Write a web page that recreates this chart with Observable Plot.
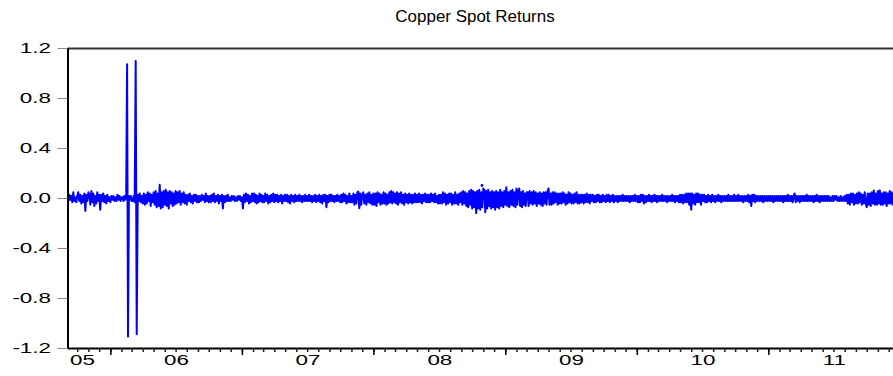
<!DOCTYPE html>
<html><head><meta charset="utf-8">
<script src="https://cdn.jsdelivr.net/npm/d3@7"></script>
<script src="https://cdn.jsdelivr.net/npm/@observablehq/plot@0.6"></script>
<style>
body{margin:0;background:#fff;font-family:"Liberation Sans",Arial,sans-serif;}
#wrap{position:relative;width:893px;height:376px;overflow:hidden;background:#fff;}
#title{position:absolute;top:8px;left:0;width:950px;text-align:center;font-size:16px;color:#000;transform:scaleX(1.06);transform-origin:475px 0;}
#chart{position:absolute;left:0;top:0;}
</style></head><body>
<div id="wrap"><div id="chart"></div><div id="title">Copper Spot Returns</div></div>
<script>
// Daily copper spot returns (first month: Sep 2005)
const firstMonth = "2005-09";
const returns2005 = [
  [0.01,-0.02,0.03,-0.01,0.02,-0.03,0.05,-0.02,0.01,-0.03,0.02],
  [0.05,-0.02,0.03,-0.04,0.02,-0.03,0.04,-0.10,0.03,-0.02,0.05],
  [0.03,-0.05,0.06,-0.03,0.04,-0.06,0.02,-0.04,0.05,-0.02,0.03],
  [-0.09,0.03,-0.02,0.04,-0.03,0.02,-0.04,0.03,-0.02,0.01,-0.03]
];
const returns2006 = [
  [0.02,-0.01,0.02,-0.02,0.01,-0.02,0.03,-0.01,0.02,-0.02,0.01],
  [0.01,-0.02,0.02,-0.01,0.02,1.074,-1.104,0.02,-0.01,0.02,-0.02],
  [-0.02,0.02,-0.03,1.10,-1.085,0.03,-0.02,0.04,-0.03,0.02,-0.04],
  [0.04,-0.05,0.03,-0.04,0.05,-0.02,0.04,-0.06,0.03,-0.03,0.05],
  [-0.05,0.06,-0.07,0.04,-0.06,0.11,-0.08,0.05,-0.07,0.06,-0.05],
  [0.07,-0.06,0.05,-0.08,0.06,-0.04,0.05,-0.06,0.04,-0.05,0.06],
  [-0.04,0.05,-0.03,0.06,-0.05,0.04,-0.03,0.05,-0.04,0.03,-0.05],
  [0.03,-0.02,0.04,-0.03,0.02,-0.04,0.03,-0.02,0.03,-0.03,0.02],
  [-0.03,0.02,-0.02,0.03,-0.01,0.02,-0.03,0.04,-0.02,0.02,-0.03],
  [0.02,-0.03,0.03,-0.02,0.04,-0.03,0.02,-0.02,0.03,-0.04,0.02],
  [-0.02,0.03,-0.08,0.02,-0.03,0.02,-0.02,0.03,-0.02,0.01,-0.02],
  [0.02,-0.01,0.02,-0.02,0.01,-0.02,0.02,-0.01,0.02,-0.02,0.01]
];
const returns2007 = [
  [-0.08,0.03,-0.03,0.04,-0.02,0.03,-0.04,0.02,-0.03,0.04,-0.02],
  [0.04,-0.03,0.03,-0.04,0.02,-0.03,0.04,-0.02,0.03,-0.03,0.02],
  [-0.03,0.04,-0.02,0.03,-0.04,0.02,-0.03,0.03,-0.02,0.04,-0.03],
  [0.03,-0.02,0.03,-0.03,0.02,-0.02,0.03,-0.04,0.02,-0.02,0.03],
  [-0.02,0.03,-0.03,0.02,-0.04,0.03,-0.02,0.02,-0.03,0.03,-0.02],
  [0.02,-0.02,0.03,-0.02,0.02,-0.03,0.02,-0.02,0.03,-0.02,0.02],
  [-0.02,0.03,-0.02,0.02,-0.03,0.02,-0.02,0.03,-0.03,0.02,-0.02],
  [0.03,-0.03,0.02,-0.04,0.03,-0.02,0.03,-0.07,0.02,-0.03,0.03],
  [-0.02,0.03,-0.02,0.02,-0.03,0.02,-0.02,0.03,-0.02,0.02,-0.03],
  [0.03,-0.03,0.04,-0.02,0.03,-0.04,0.02,-0.03,0.04,-0.03,0.02],
  [-0.03,0.04,-0.05,0.03,-0.04,0.05,0.056,-0.077,0.04,-0.05,0.03],
  [0.05,-0.04,0.03,-0.05,0.04,-0.03,0.05,-0.04,0.03,-0.05,0.04]
];
const returns2008 = [
  [-0.05,0.04,-0.06,0.05,-0.03,0.04,-0.05,0.03,-0.04,0.05,-0.04],
  [0.04,-0.05,0.03,-0.04,0.05,-0.03,0.06,-0.04,0.05,-0.03,0.04],
  [-0.04,0.05,-0.05,0.04,-0.03,0.05,-0.04,0.03,-0.05,0.04,-0.03],
  [0.03,-0.04,0.04,-0.03,0.03,-0.04,0.03,-0.03,0.04,-0.03,0.03],
  [-0.03,0.04,-0.03,0.03,-0.04,0.03,-0.02,0.04,-0.03,0.03,-0.03],
  [0.03,-0.03,0.04,-0.02,0.03,-0.03,0.04,-0.03,0.02,-0.04,0.03],
  [-0.04,0.03,-0.04,0.05,-0.03,0.04,-0.05,0.03,-0.04,0.04,-0.03],
  [0.04,-0.05,0.03,-0.04,0.05,-0.04,0.03,-0.05,0.04,-0.03,0.05],
  [-0.05,0.06,-0.04,0.05,-0.06,0.04,-0.07,0.06,-0.05,0.07,-0.08],
  [0.06,-0.07,0.05,-0.117,0.06,-0.08,0.07,-0.09,0.05,-0.07,0.08],
  [0.07,-0.11,0.06,-0.08,0.07,-0.06,0.05,-0.08,0.06,-0.07,0.05],
  [-0.09,0.06,-0.07,0.05,-0.08,0.07,-0.06,0.05,-0.07,0.06,-0.05]
];
const returns2009 = [
  [0.09,-0.06,0.05,-0.07,0.06,-0.05,0.07,-0.06,0.05,-0.07,0.08],
  [-0.05,0.06,0.08,-0.06,0.05,-0.07,0.06,-0.05,0.04,-0.06,0.05],
  [0.05,-0.06,0.06,-0.04,0.05,-0.05,0.06,-0.04,0.05,-0.06,0.04],
  [-0.04,0.05,-0.05,0.04,-0.06,0.05,-0.04,0.05,-0.05,0.06,0.08],
  [-0.05,0.04,-0.05,0.05,-0.04,0.05,-0.03,0.04,-0.05,0.04,-0.04],
  [0.04,-0.04,0.05,-0.03,0.04,-0.05,0.03,-0.04,0.05,-0.03,0.04],
  [-0.04,0.03,-0.04,0.04,-0.03,0.05,-0.04,0.03,-0.04,0.03,-0.03],
  [0.03,-0.04,0.03,-0.03,0.04,-0.03,0.03,-0.04,0.03,-0.02,0.03],
  [-0.03,0.02,-0.03,0.03,-0.02,0.03,-0.03,0.02,-0.03,0.03,-0.02],
  [0.02,-0.03,0.03,-0.02,0.03,-0.03,0.02,-0.02,0.03,-0.03,0.02],
  [-0.02,0.02,-0.03,0.02,-0.02,0.02,-0.02,0.03,-0.02,0.02,-0.02],
  [0.02,-0.02,0.02,-0.03,0.02,-0.02,0.02,-0.02,0.03,-0.02,0.02]
];
const returns2010 = [
  [-0.03,0.02,-0.03,0.03,-0.02,0.03,-0.04,0.02,-0.03,0.02,-0.02],
  [0.03,-0.02,0.02,-0.03,0.02,-0.02,0.03,-0.02,0.02,-0.03,0.02],
  [-0.02,0.02,-0.02,0.03,-0.02,0.02,-0.02,0.02,-0.03,0.02,-0.02],
  [0.02,-0.02,0.03,-0.02,0.02,-0.03,0.02,-0.02,0.02,-0.03,0.03],
  [-0.03,0.03,-0.04,0.03,-0.03,0.04,-0.03,0.04,-0.05,0.04,-0.09],
  [0.04,-0.04,0.03,-0.05,0.04,-0.03,0.04,-0.03,0.03,-0.05,0.03],
  [-0.02,0.03,-0.03,0.02,-0.03,0.03,-0.02,0.02,-0.03,0.03,-0.02],
  [0.02,-0.03,0.02,-0.02,0.03,-0.02,0.02,-0.03,0.02,-0.02,0.02],
  [-0.02,0.02,-0.02,0.03,-0.02,0.02,-0.02,0.02,-0.02,0.03,-0.02],
  [0.02,-0.02,0.03,-0.02,0.02,-0.02,0.02,-0.03,0.02,-0.02,0.02],
  [-0.02,0.03,-0.03,0.02,-0.06,0.03,-0.02,0.03,-0.03,0.02,-0.02],
  [0.02,-0.02,0.02,-0.02,0.02,-0.03,0.02,-0.02,0.02,-0.02,0.02]
];
const returns2011 = [
  [-0.02,0.02,-0.02,0.02,-0.03,0.02,-0.02,0.02,-0.02,0.02,-0.02],
  [0.02,-0.02,0.02,-0.03,0.02,-0.02,0.02,-0.02,0.03,-0.02,0.02],
  [-0.02,0.02,-0.03,0.02,0.04,-0.03,0.02,-0.02,0.02,-0.03,0.02],
  [-0.02,0.02,-0.02,0.02,-0.02,0.03,-0.02,0.02,-0.02,0.02,-0.02],
  [0.02,-0.03,0.02,-0.02,0.03,-0.02,0.02,-0.03,0.02,-0.02,0.02],
  [-0.02,0.02,-0.02,0.02,-0.02,0.02,-0.02,0.01,-0.02,0.02,-0.02],
  [0.02,-0.01,0.02,-0.02,0.01,-0.02,0.02,-0.02,0.01,-0.02,0.02],
  [-0.02,0.03,-0.04,0.03,-0.05,0.04,-0.03,0.04,-0.05,0.03,-0.04],
  [0.04,-0.04,0.05,-0.03,0.04,-0.05,0.03,-0.04,0.05,-0.04,-0.07],
  [0.04,-0.05,0.04,-0.06,0.05,-0.04,0.065,-0.05,0.04,-0.05,0.06],
  [-0.04,0.065,-0.05,0.04,-0.05,0.05,-0.04,0.05,-0.06,0.04,-0.04],
  [0.06,-0.04,0.05,-0.05,0.04,-0.05,0.05,-0.04,0.04,-0.05,0.04]
];
// isolated observation (small dash above the band in late 2008)
const isolatedDates = ["2008-10-27"];
const isolatedValues = [0.104];

const yTicks = [-1.2, -0.8, -0.4, 0, 0.4, 0.8, 1.2];
const yearTicks = ["2006-01-01","2007-01-01","2008-01-01","2009-01-01","2010-01-01","2011-01-01"];
const yearLabels = ["05","06","07","08","09","10","11"];
const yearLabelDates = ["2005-10-14","2006-07-02","2007-07-02","2008-07-02","2009-07-02","2010-07-02","2011-07-02"];
const xDomain = ["2005-09-04","2011-12-13"];

const parse = d3.utcParse("%Y-%m-%d");
const years = [returns2005, returns2006, returns2007, returns2008, returns2009, returns2010, returns2011];
const [fy, fm] = firstMonth.split("-").map(Number);
const series = [];
let k = 0;
for (const yr of years) {
  for (const monthVals of yr) {
    const start = Date.UTC(fy, fm - 1 + k, 1), end = Date.UTC(fy, fm + k, 1);
    monthVals.forEach((v, i) => series.push({date: new Date(start + (i + 0.5) / monthVals.length * (end - start)), value: v}));
    k++;
  }
}
const isolated = isolatedDates.map((d, i) => ({date: parse(d), value: isolatedValues[i]}));
const labels = yearLabels.map((l, i) => ({label: l, date: parse(yearLabelDates[i])}));
const domain = xDomain.map(parse);
const monthTicks = d3.utcMonth.range(domain[0], domain[1]);

const plot = Plot.plot({
  width: 893, height: 376,
  marginLeft: 67.5, marginRight: 0, marginTop: 48, marginBottom: 28,
  style: {fontFamily: "'Liberation Sans', Arial, sans-serif", fontSize: "14px", background: "transparent", color: "#000"},
  x: {type: "utc", domain, label: null},
  y: {domain: [-1.2, 1.2], label: null},
  marks: [
    Plot.line(series, {x: "date", y: "value", stroke: "#0000ff", strokeWidth: 2, clip: true}),
    Plot.dot(isolated, {x: "date", y: "value", r: 1.4, fill: "#0000ff", stroke: "none"}),
    Plot.ruleY([1.2], {stroke: "#333", strokeWidth: 2}),
    Plot.ruleY([-1.2], {stroke: "#000", strokeWidth: 2}),
    Plot.ruleX([domain[0]], {stroke: "#000", strokeWidth: 2}),
    Plot.axisY({ticks: yTicks, tickSize: 10, tickPadding: 7, tickFormat: d => d.toFixed(1), stroke: "#888", fill: "#000", fontSize: 14}),
    Plot.axisX({ticks: monthTicks, tickSize: 4, tickFormat: () => "", stroke: "#222", strokeWidth: 1.5}),
    Plot.axisX({ticks: yearTicks.map(parse), tickSize: 7, tickFormat: () => "", stroke: "#000", strokeWidth: 1.5}),
    Plot.text(labels, {x: "date", text: "label", frameAnchor: "bottom", dy: 16, fontSize: 14, fill: "#000"})
  ]
});
document.getElementById("chart").appendChild(plot);
d3.select(plot).selectAll("text").each(function() {
  const s = this.textContent.trim();
  let f = 0;
  if (/^-?\d\.\d$/.test(s)) f = 1.6;
  else if (/^\d\d$/.test(s)) f = 1.6;
  if (!f) return;
  const L = this.getComputedTextLength();
  if (L > 0) {
    this.setAttribute("textLength", (L * f).toFixed(1));
    this.setAttribute("lengthAdjust", "spacingAndGlyphs");
  }
});
</script>
</body></html>
